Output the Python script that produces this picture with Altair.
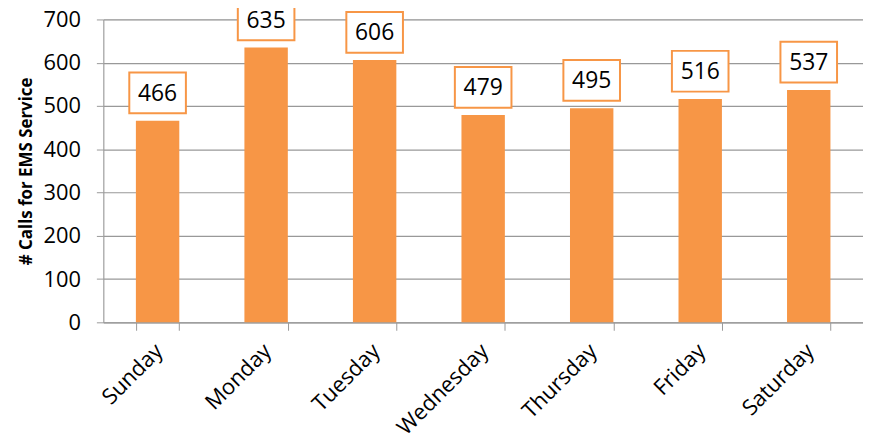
import altair as alt
import pandas as pd

days = ["Sunday", "Monday", "Tuesday", "Wednesday", "Thursday", "Friday", "Saturday"]
calls = [466, 635, 606, 479, 495, 516, 537]

df = pd.DataFrame({"day": days, "calls": calls})

FONT = "Open Sans"
ORANGE = "#F79646"

x = alt.X("day:N", sort=days, title=None,
          scale=alt.Scale(paddingInner=0.6, paddingOuter=0.3),
          axis=alt.Axis(labelAngle=-45, labelFontSize=22, labelFont=FONT, labelColor="black",
                        tickBand="extent", tickSize=8, tickColor="#999999",
                        domainColor="#999999", labelPadding=10, labelOffset=-6, grid=False))
y = alt.Y("calls:Q", title="# Calls for EMS Service",
          scale=alt.Scale(domain=[0, 700], nice=False),
          axis=alt.Axis(values=[0, 100, 200, 300, 400, 500, 600, 700],
                        labelFontSize=22, labelFont=FONT, labelColor="black",
                        labelPadding=16, tickSize=7, tickColor="#999999",
                        domainColor="#999999", gridColor="#999999", gridWidth=1.2,
                        titleFont=FONT, titleFontSize=17, titleFontWeight="bold",
                        titleColor="black", titlePadding=8))

bars = alt.Chart(df).mark_bar(color=ORANGE).encode(x=x, y=y)

boxes = alt.Chart(df).mark_point(
    shape="M-1,-0.72L1,-0.72L1,0.72L-1,0.72Z", size=3249, filled=True,
    fill="white", fillOpacity=1, stroke=ORANGE, strokeWidth=2, opacity=1, yOffset=-28
).encode(x=x, y=y)

labels = alt.Chart(df).mark_text(
    font=FONT, fontSize=23, color="black", baseline="middle", dy=-27
).encode(x=x, y=y, text="calls:Q")

chart = (bars + boxes + labels).properties(
    width=765, height=305,
    autosize=alt.AutoSizeParams(type="none"),
    padding={"left": 96, "top": 10, "right": 0, "bottom": 120},
).configure_view(stroke=None).configure(background="white")

chart.save("out.html", embed_options={"renderer": "svg", "actions": False})
